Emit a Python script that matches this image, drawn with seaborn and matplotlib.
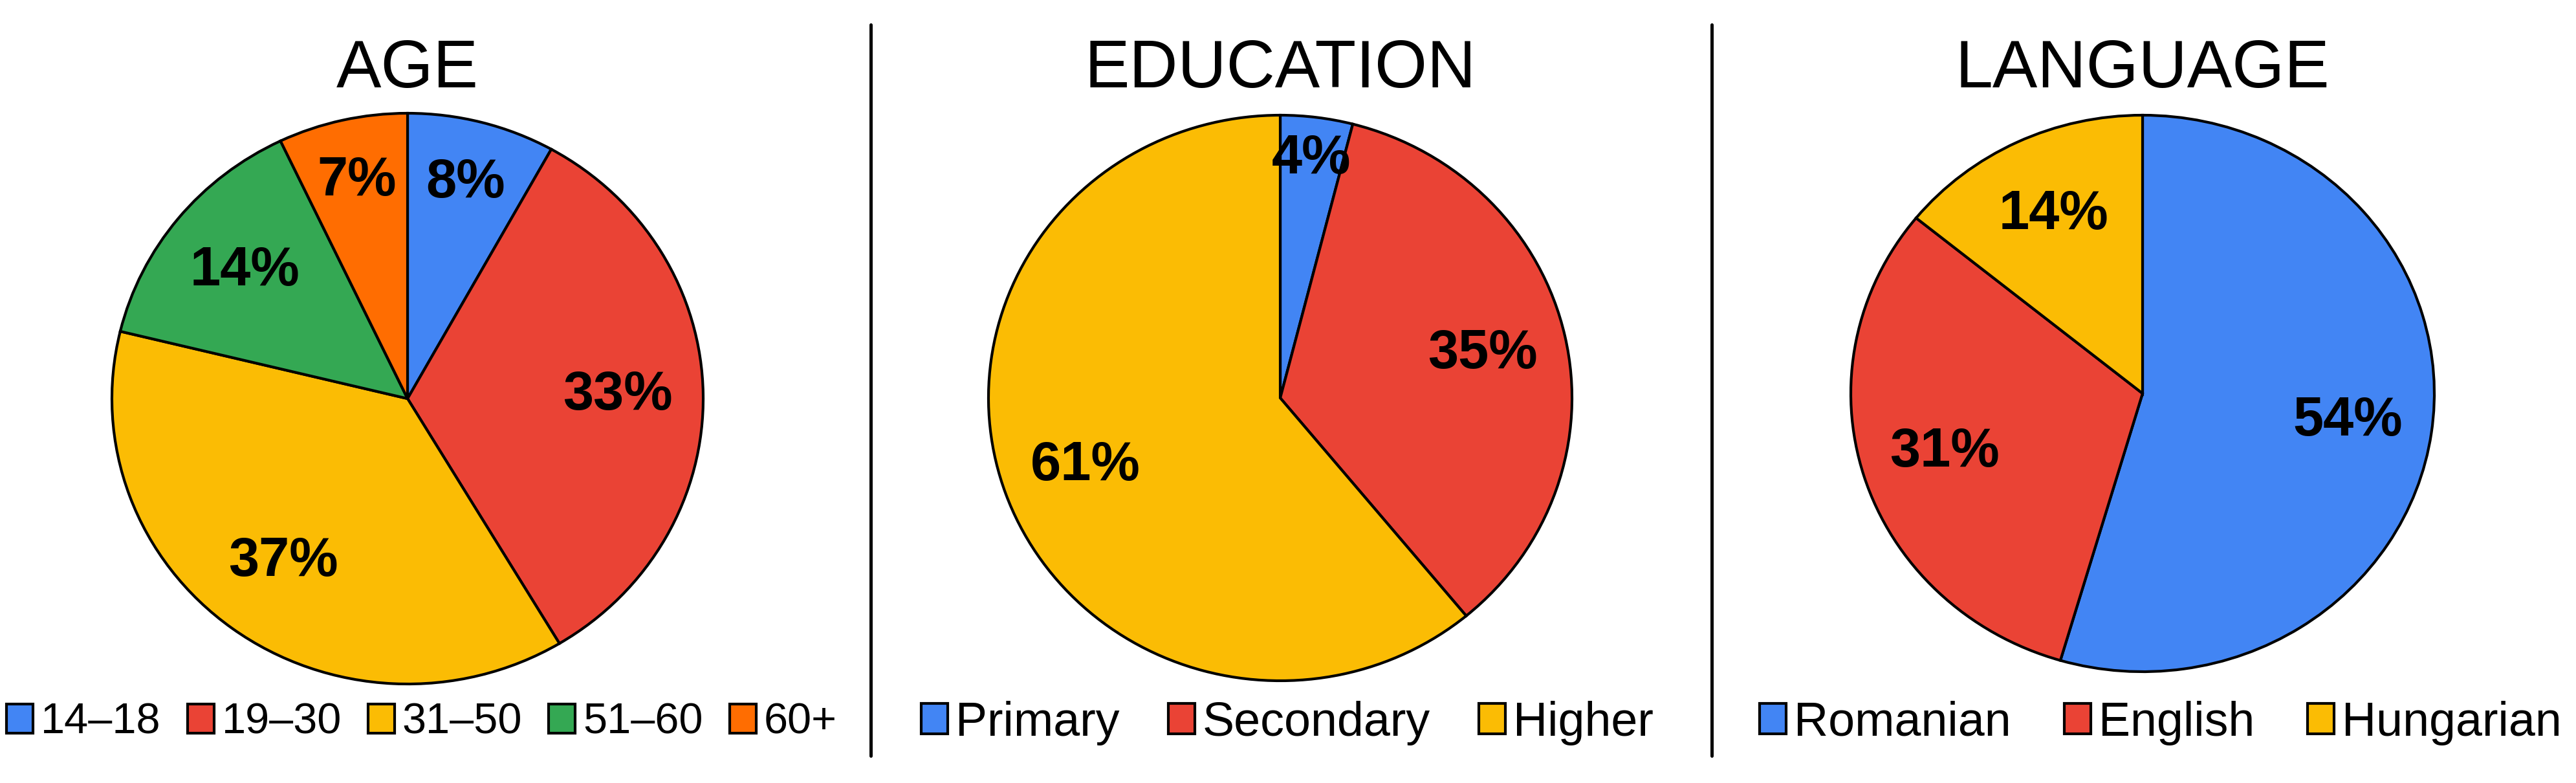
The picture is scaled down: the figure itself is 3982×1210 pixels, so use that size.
import matplotlib
matplotlib.use("Agg")
import matplotlib.pyplot as plt
import seaborn as sns
import numpy as np
from matplotlib.patches import Patch
from matplotlib.lines import Line2D

# Data
titles = ["AGE", "EDUCATION", "LANGUAGE"]
age_labels = ["14–18", "19–30", "31–50", "51–60", "60+"]
age_values = [8, 33, 37, 14, 7]
edu_labels = ["Primary", "Secondary", "Higher"]
edu_values = [4, 35, 61]
lang_labels = ["Romanian", "English", "Hungarian"]
lang_values = [54, 31, 14]

colors = ["#4285F4", "#EA4335", "#FBBC04", "#34A853", "#FF6D01"]

sns.set_theme(style="white")
plt.rcParams["font.family"] = ["Liberation Sans", "DejaVu Sans"]
plt.rcParams["text.color"] = "black"
palette = sns.color_palette(colors)

W, H = 3982, 1210
fig = plt.figure(figsize=(W / 100, H / 100), dpi=100)

# layout in pixels: pie centre, radii, legend centre x, legend font size, column gap (px)
layout = [
    (630, 616, 457, 441, 652, 48, 41),
    (1979, 615, 451, 437, 1990, 53, 75),
    (3312, 608, 451, 430, 3340, 53, 82),
]
datasets = [(age_labels, age_values), (edu_labels, edu_values), (lang_labels, lang_values)]


def draw_pie(title, labels, values, cx, cy, rx, ry, lcx, lsize, gap):
    ax = fig.add_axes([(cx - rx) / W, 1 - (cy + ry) / H, 2 * rx / W, 2 * ry / H])
    wedges, _ = ax.pie(values, colors=palette[:len(values)], startangle=90,
                       counterclock=False,
                       wedgeprops=dict(edgecolor="black", linewidth=3, clip_on=False))
    ax.set_aspect("auto")
    ax.set_xlim(-1, 1)
    ax.set_ylim(-1, 1)
    ax.axis("off")

    # percentage labels, pushed outward on thin slices
    total = sum(values)
    for w, v in zip(wedges, values):
        ang = np.deg2rad((w.theta1 + w.theta2) / 2)
        frac = v / total
        d = 0.85 if frac < 0.05 else (0.78 if frac < 0.1 else 0.71)
        ax.text(d * np.cos(ang), d * np.sin(ang), f"{v}%", ha="center", va="center",
                fontsize=61, fontweight="bold")

    fig.text(cx / W, 1 - 135 / H, title, ha="center", va="baseline", fontsize=75)

    # legend, spacing given in pixels and converted to font-size units
    em = lsize * 100 / 72
    handles = [Patch(facecolor=c, edgecolor="black", linewidth=3) for c in palette[:len(values)]]
    fig.legend(handles, labels, loc="center", bbox_to_anchor=(lcx / W, 1 - 1117 / H),
               ncol=len(labels), frameon=False, fontsize=lsize,
               handlelength=41 / em, handleheight=45 / em, handletextpad=12 / em,
               columnspacing=gap / em, borderpad=0, borderaxespad=0)


for title, (labels, values), lay in zip(titles, datasets, layout):
    draw_pie(title, labels, values, *lay)

# vertical separators
for x in [1346, 2646]:
    fig.add_artist(Line2D([x / W, x / W], [1 - 38 / H, 1 - 1168 / H], color="black",
                          lw=3.6, transform=fig.transFigure))

fig.savefig("out.png", dpi=100)
